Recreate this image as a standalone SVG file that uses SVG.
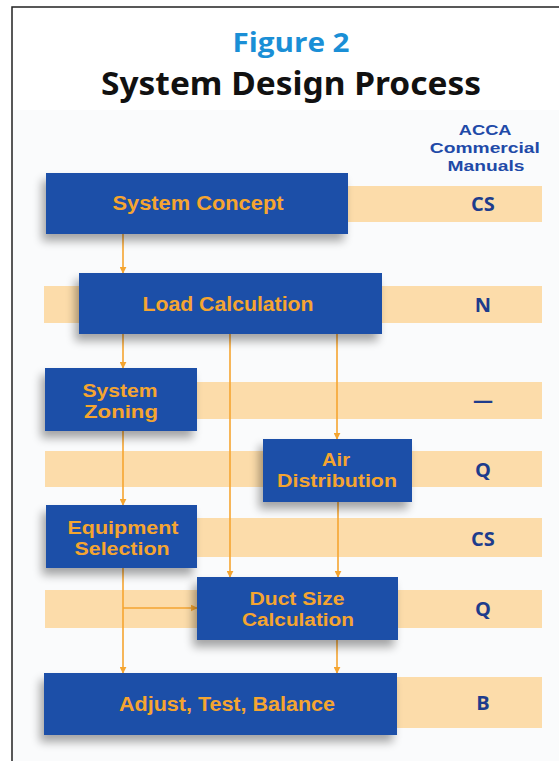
<svg xmlns="http://www.w3.org/2000/svg" width="559" height="761" viewBox="0 0 559 761">
<defs>
<filter id="sh" x="-20%" y="-30%" width="140%" height="170%">
<feGaussianBlur in="SourceAlpha" stdDeviation="5"/>
<feOffset dx="-4" dy="7" result="b"/>
<feComponentTransfer><feFuncA type="linear" slope="0.35"/></feComponentTransfer>
<feMerge><feMergeNode/><feMergeNode in="SourceGraphic"/></feMerge>
</filter>
<marker id="ah" viewBox="0 0 10 10" refX="9" refY="5" markerWidth="7" markerHeight="7" orient="auto" markerUnits="userSpaceOnUse">
<path d="M0,0 L10,5 L0,10 z" fill="#f5a530"/>
</marker>
</defs>
<style>
.bar{fill:#fcdcaa}
.box{fill:#1f4fa8;filter:url(#sh)}
.lbl{font-family:"Liberation Sans",Arial,sans-serif;font-weight:700;font-size:20px;fill:#f5a530;text-anchor:middle}
.lbl2{font-family:"Liberation Sans",Arial,sans-serif;font-weight:700;font-size:18px;fill:#f5a530;text-anchor:middle}
.code{font-family:"Open Sans","DejaVu Sans",sans-serif;font-weight:700;font-size:20px;fill:#1e3c8c;text-anchor:middle}
.con{stroke:#f5a530;stroke-width:1.6;fill:none;marker-end:url(#ah)}
</style>
<rect x="0" y="0" width="559" height="761" fill="#ffffff"/>
<rect x="12" y="110" width="547" height="651" fill="#fafbfc"/>
<path d="M12,761 V7 H559" fill="none" stroke="#222" stroke-width="1.5"/>
<text x="291" y="52" font-family="Open Sans, sans-serif" font-weight="700" font-size="26" fill="#1a8fd6" text-anchor="middle" textLength="117" lengthAdjust="spacingAndGlyphs">Figure 2</text>
<text x="291" y="95" font-family="Noto Sans, sans-serif" font-weight="700" font-size="32" fill="#111" text-anchor="middle" textLength="380" lengthAdjust="spacingAndGlyphs">System Design Process</text>
<text id="header" font-family="Liberation Sans, Arial, sans-serif" font-weight="700" font-size="15.5" fill="#1f4aa8" text-anchor="middle">
<tspan x="487" y="135" textLength="52" lengthAdjust="spacingAndGlyphs">ACCA</tspan>
<tspan x="487" y="153" textLength="110" lengthAdjust="spacingAndGlyphs">Commercial</tspan>
<tspan x="486" y="171" textLength="77" lengthAdjust="spacingAndGlyphs">Manuals</tspan>
</text>
<g id="bars">
<rect class="bar" x="348" y="186" width="194" height="36"/>
<rect class="bar" x="44" y="286" width="498" height="37"/>
<rect class="bar" x="197" y="382" width="345" height="37"/>
<rect class="bar" x="45" y="451" width="497" height="36"/>
<rect class="bar" x="197" y="518" width="345" height="39"/>
<rect class="bar" x="45" y="590" width="497" height="38"/>
<rect class="bar" x="397" y="677" width="145" height="51"/>
</g>
<g id="codes">
<text class="code" x="483" y="211">CS</text>
<text class="code" x="483" y="312">N</text>
<text class="code" x="483" y="407">—</text>
<text class="code" x="483" y="477">Q</text>
<text class="code" x="483" y="546">CS</text>
<text class="code" x="483" y="616">Q</text>
<text class="code" x="483" y="710">B</text>
</g>
<g id="connectors">
<line class="con" x1="123" y1="234" x2="123" y2="273"/>
<line class="con" x1="123" y1="334" x2="123" y2="368"/>
<line class="con" x1="230" y1="334" x2="230" y2="577"/>
<line class="con" x1="337" y1="334" x2="337" y2="439"/>
<line class="con" x1="123" y1="431" x2="123" y2="505"/>
<line class="con" x1="338" y1="502" x2="338" y2="577"/>
<line class="con" x1="123" y1="568" x2="123" y2="673"/>
<line class="con" x1="123" y1="608" x2="197" y2="608"/>
<line class="con" x1="337" y1="640" x2="337" y2="673"/>
</g>
<g id="n1"><rect class="box" x="46" y="173" width="302" height="61"/><text class="lbl" x="198" y="210" textLength="171" lengthAdjust="spacingAndGlyphs">System Concept</text></g>
<g id="n2"><rect class="box" x="79" y="273" width="303" height="61"/><text class="lbl" x="228" y="311" textLength="171" lengthAdjust="spacingAndGlyphs">Load Calculation</text></g>
<g id="n3"><rect class="box" x="45" y="368" width="152" height="63"/><text class="lbl2"><tspan x="120" y="397" textLength="75" lengthAdjust="spacingAndGlyphs">System</tspan><tspan x="121" y="418" textLength="74" lengthAdjust="spacingAndGlyphs">Zoning</tspan></text></g>
<g id="n4"><rect class="box" x="263" y="439" width="149" height="63"/><text class="lbl2"><tspan x="336" y="466" textLength="28" lengthAdjust="spacingAndGlyphs">Air</tspan><tspan x="337" y="487" textLength="120" lengthAdjust="spacingAndGlyphs">Distribution</tspan></text></g>
<g id="n5"><rect class="box" x="46" y="505" width="151" height="63"/><text class="lbl2"><tspan x="123" y="534" textLength="111" lengthAdjust="spacingAndGlyphs">Equipment</tspan><tspan x="122" y="555" textLength="95" lengthAdjust="spacingAndGlyphs">Selection</tspan></text></g>
<g id="n6"><rect class="box" x="197" y="577" width="201" height="63"/><text class="lbl2"><tspan x="297" y="605" textLength="95" lengthAdjust="spacingAndGlyphs">Duct Size</tspan><tspan x="298" y="626" textLength="112" lengthAdjust="spacingAndGlyphs">Calculation</tspan></text></g>
<g id="n7"><rect class="box" x="44" y="673" width="353" height="62"/><text class="lbl" x="227" y="711" textLength="216" lengthAdjust="spacingAndGlyphs">Adjust, Test, Balance</text></g>
</svg>
